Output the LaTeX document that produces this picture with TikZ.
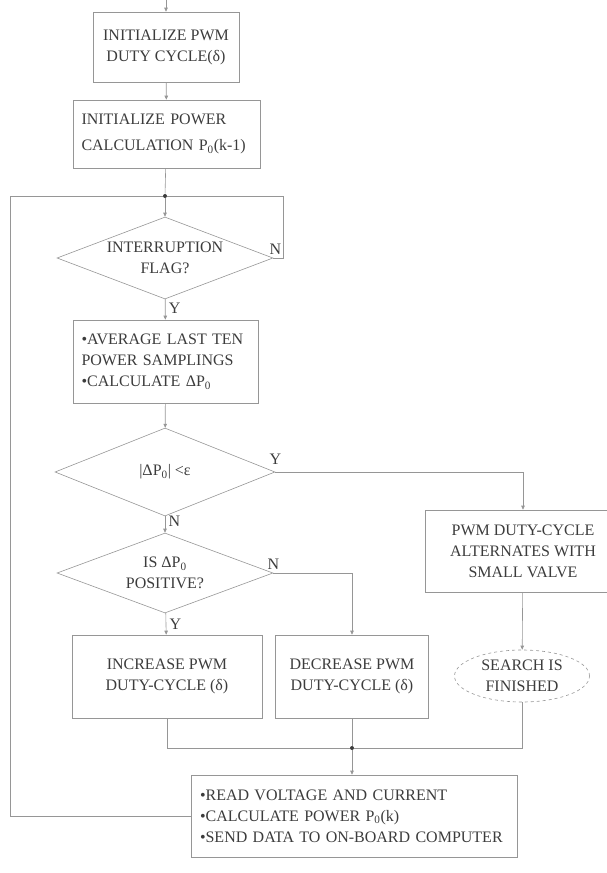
\documentclass[tikz,border=0pt]{standalone}
\usepackage{fontspec}
\setmainfont{Liberation Serif}
\usetikzlibrary{positioning,arrows.meta,shapes.geometric}
\definecolor{lgray}{RGB}{150,150,150}
\definecolor{dgray}{RGB}{60,60,60}

\begin{document}
\begin{tikzpicture}[x=1pt,y=-1pt,font=\fontsize{16}{21}\selectfont,line width=0.6pt,
    box/.style={draw=lgray,text=dgray,inner sep=0pt,align=center},
    lbox/.style={draw=lgray,text=dgray,align=left,inner xsep=8.5pt},
    dec/.style={draw=lgray,text=dgray,diamond,aspect=2.6,inner sep=0pt,align=center},
    flow/.style={draw=lgray,-{Triangle[length=4pt,width=3.5pt]}},
    link/.style={draw=lgray},
    lab/.style={text=dgray},
    dot/.style={circle,fill=dgray,inner sep=0pt,minimum size=4pt}]
        \useasboundingbox (0,0) rectangle (607,873);
        % left column
        \coordinate (start) at (166,0);
        \node[box,minimum width=146pt,minimum height=70pt] (init) at (166,47) {INITIALIZE PWM\\DUTY CYCLE(δ)};
        \node[lbox,text width=170pt,minimum height=68pt] (power) at (166.5,134) {INITIALIZE POWER\\[5pt]CALCULATION P\textsubscript{0}(k-1)};
        \node[dot] (top) at (165,196) {};
        \coordinate (back) at (10,196);
        \node[dec,minimum width=216pt,minimum height=82pt] (flag) at (165,258) {INTERRUPTION\\FLAG?};
        \node[lbox,text width=168pt,minimum height=83pt] (avg) at (165.5,361.5) {•AVERAGE LAST TEN\\POWER SAMPLINGS\\•CALCULATE ΔP\textsubscript{0}};
        \node[dec,minimum width=220pt,minimum height=88pt] (eps) at (165,472) {|ΔP\textsubscript{0}| <ε};
        \node[dec,minimum width=216pt,minimum height=80pt] (pos) at (165,573) {IS ΔP\textsubscript{0}\\POSITIVE?};
        \node[box,minimum width=190pt,minimum height=83pt] (inc) at (167,676.5) {INCREASE PWM\\DUTY-CYCLE (δ)};
        \node[box,minimum width=153pt,minimum height=83pt] (decr) at (352,676.5) {DECREASE PWM\\DUTY-CYCLE (δ)};
        % right column
        \node[box,minimum width=196pt,minimum height=82pt] (alt) at (523,551) {PWM DUTY-CYCLE\\ALTERNATES WITH\\SMALL VALVE};
        \node[box,ellipse,dashed,minimum width=135pt,minimum height=52pt] (fin) at (522,676) {SEARCH IS\\FINISHED};
        % bottom
        \node[dot] (join) at (352,748) {};
        \node[lbox,text width=309pt,minimum height=82pt] (read) at (354.5,816) {•READ VOLTAGE AND CURRENT\\•CALCULATE POWER P\textsubscript{0}(k)\\•SEND DATA TO ON-BOARD COMPUTER};
        % connectors
        \draw[flow] (start) -- (init);
        \draw[flow] (init) -- (power);
        \draw[link] (power) -- (top);
        \draw[flow] (top) -- (flag);
        \draw[link] (flag.east) -- node[lab,pos=0.2,above]{N} ++(10,0) |- (top);
        \draw[flow] (flag) -- node[lab,right,pos=0.45]{Y} (avg);
        \draw[flow] (avg) -- (eps);
        \draw[flow] (eps) -- node[lab,right,pos=0.3]{N} (pos);
        \draw[flow] (eps.east) -| node[lab,pos=0,above=4pt]{Y} (alt);
        \draw[flow] (pos) -- node[lab,right]{Y} (inc);
        \draw[flow] (pos.east) -| node[lab,pos=0,above]{N} (decr);
        \draw[flow] (alt) -- (fin);
        \draw[link] (inc) |- (join);
        \draw[link] (decr) -- (join);
        \draw[link] (fin) |- (join);
        \draw[flow] (join) -- (join |- read.north);
        \draw[link] (read.west) -| (back) -- (top);
\end{tikzpicture}
\end{document}
